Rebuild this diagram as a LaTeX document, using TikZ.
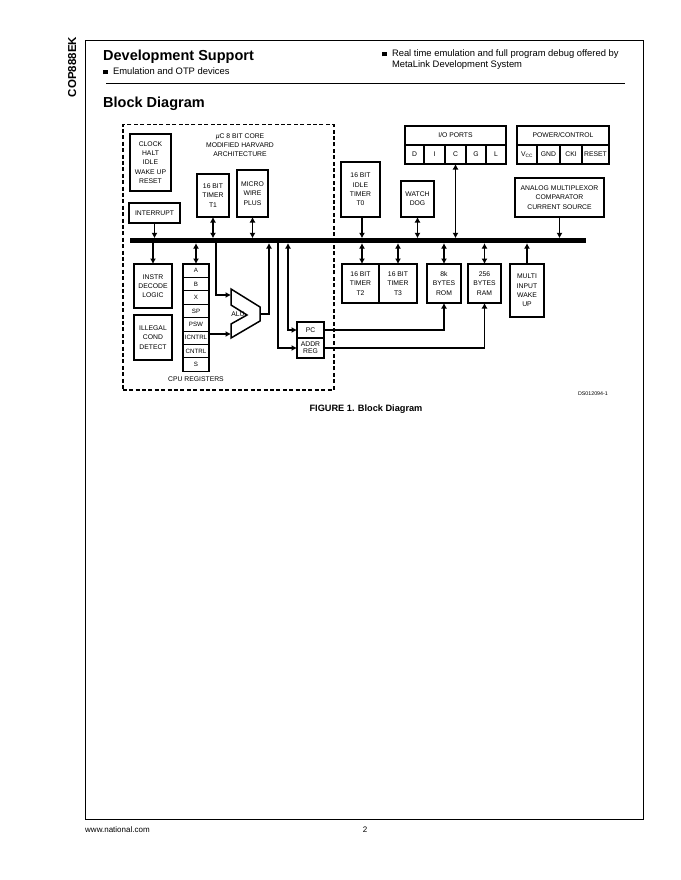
\documentclass[tikz,border=0pt]{standalone}
\usepackage{fontspec}
\setmainfont{Liberation Sans}
\usetikzlibrary{positioning,arrows.meta}
\newcommand{\squarebullet}{\rule[0.7pt]{4.3pt}{4.3pt}\hspace{5.5pt}}

\begin{document}
\begin{tikzpicture}[
    x=1pt, y=-1pt,
    node distance=0pt,
    box/.style={draw, line width=1.3pt, align=center, anchor=north west, inner sep=0pt,
      outer sep=0pt, font=\fontsize{6.8}{9.3}\selectfont},
    cell/.style={box, line width=0.8pt, minimum height=13.4pt, minimum width=26pt, font=\fontsize{6.2}{9.3}\selectfont},
    pin/.style={box, line width=1.1pt, minimum height=19pt},
    label/.style={inner sep=0pt, align=center, font=\fontsize{6.8}{9.3}\selectfont},
    page/.style={inner sep=0pt, anchor=base west, align=left, font=\fontsize{9.4}{10.8}\selectfont},
    heading/.style={inner sep=0pt, anchor=base west, font=\fontsize{14.5}{16}\selectfont\bfseries},
    arrow/.style={-{Latex[length=5.5pt,width=6pt]}, line width=1.1pt},
    twoway/.style={{Latex[length=5.5pt,width=6pt]}-{Latex[length=5.5pt,width=6pt]}, line width=1.1pt}
  ]
    \useasboundingbox (0,0) rectangle (680,880);
    \node[draw, line width=1pt, minimum width=558pt, minimum height=779pt, anchor=north west, inner sep=0pt] (frame) at (85,40) {};
    \node[inner sep=0pt, rotate=90, anchor=base, font=\fontsize{11.5}{13}\selectfont\bfseries] (partno) at (76,67) {COP888EK};
    \node[heading] (devsupport) at (103,61) {Development Support};
    \node[page] (emulation) at (103,75) {\squarebullet Emulation and OTP devices};
    \node[page] (realtime) at (382,57) {\squarebullet Real time emulation and full program debug offered by};
    \node[page] (metalink) at (391.8,68) {MetaLink Development System};
    \coordinate (ruleleft) at (106,83);
    \coordinate (ruleright) at (625,83);
    \draw[line width=0.9pt] (ruleleft) -- (ruleright);
    \node[heading] (blockdiagram) at (103,107) {Block Diagram};

    \node[draw, dash pattern=on 4pt off 2.4pt, line width=1.5pt, minimum width=211pt, minimum height=265pt, anchor=north west, inner sep=0pt] (core) at (122,124) {};
    \node[label] (coretitle) at (240,145) {\textit{µ}C  8 BIT CORE\\MODIFIED HARVARD\\ARCHITECTURE};

    \node[fill, minimum width=456pt, minimum height=4.8pt, inner sep=0pt, outer sep=0pt, anchor=west] (bus) at (130,240.7) {};

    \node[box, minimum width=41pt, minimum height=57pt] (clock) at (130,134) {CLOCK\\HALT\\IDLE\\WAKE UP\\RESET};
    \node[box, minimum width=51pt, minimum height=20pt] (interrupt) at (129,203) {INTERRUPT};
    \node[box, minimum width=32pt, minimum height=43pt] (timerone) at (197,174) {16 BIT\\TIMER\\T1};
    \node[box, minimum width=31pt, minimum height=47pt] (microwire) at (237,170) {MICRO\\WIRE\\PLUS};
    \node[box, minimum width=38pt, minimum height=44pt] (decode) at (134,264) {INSTR\\DECODE\\LOGIC};
    \node[box, minimum width=38pt, minimum height=45pt] (illegal) at (134,315) {ILLEGAL\\COND\\DETECT};

    \node[cell] (rega) at (183,264) {A};
    \node[cell, below=of rega.south west, anchor=north west] (regb) {B};
    \node[cell, below=of regb.south west, anchor=north west] (regx) {X};
    \node[cell, below=of regx.south west, anchor=north west] (regsp) {SP};
    \node[cell, below=of regsp.south west, anchor=north west] (regpsw) {PSW};
    \node[cell, below=of regpsw.south west, anchor=north west] (regicntrl) {ICNTRL};
    \node[cell, below=of regicntrl.south west, anchor=north west] (regcntrl) {CNTRL};
    \node[cell, below=of regcntrl.south west, anchor=north west] (regs) {S};
    \draw[line width=1.3pt] (rega.north west) rectangle (regs.south east);
    \node[label] (cpuregs) at (196,379) {CPU  REGISTERS};

    \coordinate (alutop) at (231,289);
    \coordinate (aluin) at (231,295);
    \coordinate (alupinch) at (231,305);
    \coordinate (alunotch) at (247,315);
    \coordinate (alulow) at (231,324);
    \coordinate (aluctl) at (231,334);
    \coordinate (alubottom) at (231,338);
    \coordinate (aluend) at (260,321);
    \coordinate (aluout) at (260,314);
    \coordinate (alutip) at (260,307);
    \draw[line width=1.5pt, line join=miter] (alutop) -- (alutip) -- (aluend) -- (alubottom) -- (alulow) -- (alunotch) -- (alupinch) -- cycle;
    \node[label] (alu) at (238,314) {ALU};

    \node[box, minimum width=27pt, minimum height=16pt] (pc) at (297,322) {PC};
    \node[box, minimum width=27pt, minimum height=20pt, font=\fontsize{6.8}{7.2}\selectfont, below=of pc.south west, anchor=north west] (addr) {ADDR\\REG};

    \node[box, minimum width=39pt, minimum height=55pt] (timerzero) at (341,162) {16 BIT\\IDLE\\TIMER\\T0};
    \node[box, minimum width=33pt, minimum height=36pt] (watchdog) at (401,181) {WATCH\\DOG};
    \node[box, minimum width=101pt, minimum height=19pt] (ioports) at (405,126) {I/O PORTS};
    \node[box, minimum width=92pt, minimum height=19pt] (power) at (517,126) {POWER/CONTROL};
    \node[box, minimum width=89pt, minimum height=39pt] (analog) at (515,178) {ANALOG MULTIPLEXOR\\COMPARATOR\\CURRENT SOURCE};

    \node[pin, minimum width=19pt, below=of ioports.south west, anchor=north west] (portd) {D};
    \node[pin, minimum width=21pt, right=of portd.north east, anchor=north west] (porti) {I};
    \node[pin, minimum width=21pt, right=of porti.north east, anchor=north west] (portc) {C};
    \node[pin, minimum width=20pt, right=of portc.north east, anchor=north west] (portg) {G};
    \node[pin, minimum width=20pt, right=of portg.north east, anchor=north west] (portl) {L};
    \node[pin, minimum width=20pt, below=of power.south west, anchor=north west] (vcc) {V\textsubscript{CC}};
    \node[pin, minimum width=23pt, right=of vcc.north east, anchor=north west] (gnd) {GND};
    \node[pin, minimum width=22pt, right=of gnd.north east, anchor=north west] (cki) {CKI};
    \node[pin, minimum width=27pt, right=of cki.north east, anchor=north west] (reset) {RESET};

    \node[box, minimum width=37pt, minimum height=39pt] (timertwo) at (342,264) {16 BIT\\TIMER\\T2};
    \node[box, minimum width=38pt, minimum height=39pt, right=of timertwo.north east, anchor=north west] (timerthree) {16 BIT\\TIMER\\T3};
    \node[box, minimum width=34pt, minimum height=39pt] (rom) at (427,264) {8k\\BYTES\\ROM};
    \node[box, minimum width=33pt, minimum height=39pt] (ram) at (468,264) {256\\BYTES\\RAM};
    \node[box, minimum width=34pt, minimum height=53pt] (wakeup) at (510,264) {MULTI\\INPUT\\WAKE\\UP};

    \node[inner sep=0pt, font=\fontsize{5.3}{6}\selectfont, anchor=east] (dsnumber) at (608,394) {DS012094-1};
    \node[inner sep=0pt, anchor=base, font=\fontsize{9.2}{10}\selectfont\bfseries] (caption) at (366,411) {FIGURE 1. Block Diagram};
    \node[inner sep=0pt, anchor=base west, font=\fontsize{8}{9}\selectfont] (website) at (85,832) {www.national.com};
    \node[inner sep=0pt, anchor=base, font=\fontsize{8}{9}\selectfont] (pagenumber) at (365,832) {2};

    \draw[arrow] (interrupt.south) -- (interrupt.south |- bus.north);
    \draw[twoway] (timerone.south) -- (timerone.south |- bus.north);
    \draw[twoway] (microwire.south) -- (microwire.south |- bus.north);
    \draw[arrow] ([xshift=1.5pt]timerzero.south) -- ([xshift=1.5pt]timerzero.south |- bus.north);
    \draw[twoway] (watchdog.south) -- (watchdog.south |- bus.north);
    \draw[twoway] (portc.south) -- (portc.south |- bus.north);
    \draw[arrow] (analog.south) -- (analog.south |- bus.north);

    \draw[arrow] (decode.north |- bus.south) -- (decode.north);
    \draw[twoway] (rega.north) -- (rega.north |- bus.south);
    \draw[twoway] ([xshift=1.5pt]timertwo.north) -- ([xshift=1.5pt]timertwo.north |- bus.south);
    \draw[twoway] (timerthree.north) -- (timerthree.north |- bus.south);
    \draw[twoway] (rom.north) -- (rom.north |- bus.south);
    \draw[twoway] (ram.north) -- (ram.north |- bus.south);
    \draw[arrow] (wakeup.north) -- (wakeup.north |- bus.south);

    \coordinate (tapalu) at (216,243);
    \coordinate (tapaddr) at (278,243);
    \coordinate (tappc) at (288,243);
    \coordinate (aluback) at (269,243);
    \draw[arrow] (tapalu) |- (aluin);
    \draw[arrow] (regicntrl.east |- aluctl) -- (aluctl);
    \draw[arrow] (aluout) -| (aluback);
    \draw[arrow] (tapaddr) |- (addr.west);
    \draw[twoway] (tappc) |- (pc.west);
    \draw[arrow] (pc.east) -| (rom.south);
    \draw[arrow] (addr.east) -| (ram.south);
  \end{tikzpicture}
\end{document}
